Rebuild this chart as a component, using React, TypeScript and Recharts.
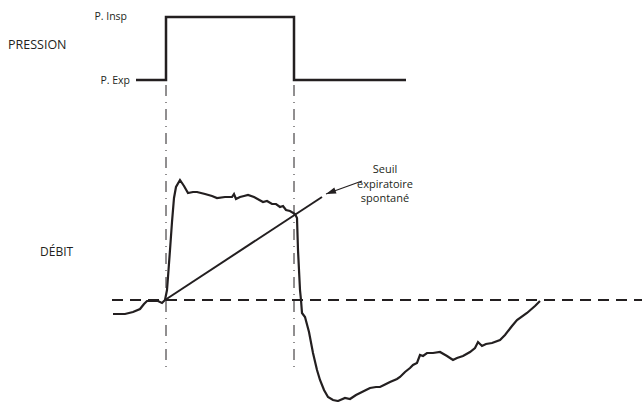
import { Line, LineChart, ReferenceLine, XAxis, YAxis } from "recharts";

// time axis (arbitrary units), flow and pressure
const flowTime = [
  1, 13, 21, 28, 32, 35, 40, 46, 50, 53, 55, 56, 58, 60, 62, 64, 68, 72, 76, 81, 85, 93, 100, 105, 113,
  120, 122, 124, 128, 132, 136, 142, 151, 155, 160, 164, 168, 171, 174, 178, 183, 185, 186, 188, 189,
  190, 193, 197, 201, 205, 208, 212, 216, 221, 226, 233, 238, 244, 248, 254, 258, 264, 268, 272, 278,
  285, 288, 293, 298, 301, 305, 308, 311, 315, 321, 328, 335, 341, 345, 351, 358, 363, 366, 370, 374,
  380, 388, 393, 400, 405, 415, 423, 428,
];
const flowValue = [
  -14, -14, -12, -9, -4, -1, -1, -1, -3, 0, 10, 23, 50, 78, 102, 113, 120, 114, 107, 108, 108, 106, 104,
  102, 103, 103, 106, 101, 103, 104, 105, 103, 98, 99, 96, 96, 93, 94, 90, 89, 86, 82, 50, 10, 0, -13,
  -17, -32, -53, -70, -80, -90, -97, -100, -101, -98, -99, -95, -93, -90, -88, -87, -87, -85, -82, -79,
  -77, -72, -68, -65, -63, -55, -56, -53, -53, -52, -56, -60, -58, -56, -52, -48, -42, -46, -44, -43,
  -40, -35, -26, -20, -13, -6, -1,
];

const pressureTime = [24, 54, 182, 294];
const pressureValue = [5, 20, 5, 5];

const thresholdTime = [53, 210];
const thresholdValue = [0, 103];

const arrowTime = [250, 214];
const arrowValue = [119, 106];

const cycleEdges = [54, 182];

const flowData = flowTime.map((t, i) => ({ t, flow: flowValue[i] }));
const pressureData = pressureTime.map((t, i) => ({ t, p: pressureValue[i] }));
const thresholdData = thresholdTime.map((t, i) => ({ t, flow: thresholdValue[i] }));
const arrowData = arrowTime.map((t, i) => ({ t, flow: arrowValue[i] }));

const ink = "#231f20";
const font = "'Open Sans', 'DejaVu Sans', sans-serif";

let tail = { x: 0, y: 0 };
const ArrowHead = (props: any) => {
  const { cx, cy, index } = props;
  if (index === 0) {
    tail = { x: cx, y: cy };
    return <g key="tail" />;
  }
  const dx = cx - tail.x;
  const dy = cy - tail.y;
  const len = Math.hypot(dx, dy) || 1;
  const ux = dx / len;
  const uy = dy / len;
  const bx = cx - ux * 10;
  const by = cy - uy * 10;
  const pts = `${cx},${cy} ${bx - uy * 3.2},${by + ux * 3.2} ${bx + uy * 3.2},${by - ux * 3.2}`;
  return <polygon key="head" points={pts} fill={ink} />;
};

const label = (text: string, style: React.CSSProperties) => (
  <div
    style={{
      position: "absolute",
      fontFamily: font,
      color: ink,
      whiteSpace: "nowrap",
      lineHeight: 1,
      transform: "translateY(-50%)",
      ...style,
    }}
  >
    {text}
  </div>
);

export default function App() {
  return (
    <div style={{ position: "absolute", left: 0, top: 0, width: 642, height: 402, background: "#fff" }}>
      <LineChart width={642} height={402} margin={{ top: 0, right: 0, bottom: 0, left: 0 }}>
        <XAxis type="number" dataKey="t" domain={[-112, 530]} hide allowDataOverflow />
        <YAxis yAxisId="flow" type="number" domain={[-102, 300]} hide allowDataOverflow />
        <YAxis yAxisId="p" type="number" domain={[-71.67, 24.05]} hide allowDataOverflow />

        <ReferenceLine
          yAxisId="flow"
          segment={[{ x: 0, y: 0 }, { x: 530, y: 0 }]}
          stroke={ink}
          strokeWidth={2}
          strokeDasharray="11 7"
        />
        {cycleEdges.map((x) => (
          <ReferenceLine
            key={x}
            yAxisId="flow"
            segment={[{ x, y: 215 }, { x, y: -70 }]}
            stroke={ink}
            strokeWidth={1}
            strokeDasharray="11 6 1 6"
          />
        ))}

        <Line
          yAxisId="p"
          data={pressureData}
          dataKey="p"
          type="stepAfter"
          stroke={ink}
          strokeWidth={2.5}
          dot={false}
          activeDot={false}
          isAnimationActive={false}
        />
        <Line
          yAxisId="flow"
          data={flowData}
          dataKey="flow"
          type="linear"
          stroke={ink}
          strokeWidth={2.2}
          dot={false}
          activeDot={false}
          isAnimationActive={false}
        />
        <Line
          yAxisId="flow"
          data={thresholdData}
          dataKey="flow"
          type="linear"
          stroke={ink}
          strokeWidth={2}
          dot={false}
          activeDot={false}
          isAnimationActive={false}
        />
        <Line
          yAxisId="flow"
          data={arrowData}
          dataKey="flow"
          type="linear"
          stroke={ink}
          strokeWidth={1.2}
          dot={ArrowHead}
          activeDot={false}
          isAnimationActive={false}
        />
      </LineChart>

      {label("PRESSION", { left: 8, top: 45, fontSize: 12.5 })}
      {label("DÉBIT", { left: 40, top: 252, fontSize: 12 })}
      {label("P. Insp", { right: 642 - 127, top: 16, fontSize: 10.5 })}
      {label("P. Exp", { right: 642 - 130, top: 80, fontSize: 10.5 })}
      <div
        style={{
          position: "absolute",
          left: 385,
          top: 162,
          transform: "translateX(-50%)",
          fontFamily: font,
          fontSize: 11,
          lineHeight: "14.5px",
          color: ink,
          textAlign: "center",
          whiteSpace: "nowrap",
        }}
      >
        Seuil
        <br />
        expiratoire
        <br />
        spontané
      </div>
    </div>
  );
}
